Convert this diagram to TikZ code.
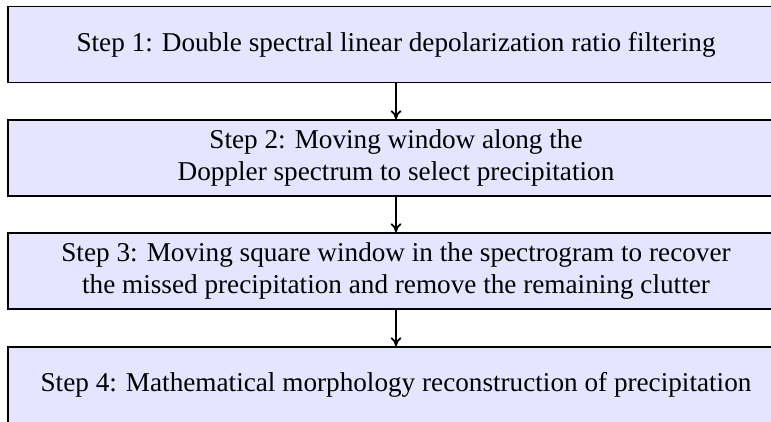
\documentclass[tikz,border=0pt]{standalone}
\usepackage{fontspec}
\setmainfont{Liberation Serif}
\usetikzlibrary{arrows.meta}
\begin{document}
\begin{tikzpicture}[x=0.5pt,y=-0.5pt,
  stepbox/.style={draw=black, line width=0.75pt, fill=blue!10,
    minimum width=388pt, minimum height=38pt, inner sep=0pt,
    align=center, font=\fontsize{13.6}{15.6}\selectfont},
  flow/.style={-{To[length=4.5pt,width=5.5pt]}, line width=0.9pt}]
  \useasboundingbox (0,0) rectangle (771,422);
  \node[stepbox] (s1) at (396,44.5) {Step 1: Double spectral linear depolarization ratio filtering};
  \node[stepbox] (s2) at (396,158) {Step 2: Moving window along the\\Doppler spectrum to select precipitation};
  \node[stepbox] (s3) at (396,271) {Step 3: Moving square window in the spectrogram to recover\\the missed precipitation and remove the remaining clutter};
  \node[stepbox] (s4) at (396,385) {Step 4: Mathematical morphology reconstruction of precipitation};
  \draw[flow] (s1) -- (s2);
  \draw[flow] (s2) -- (s3);
  \draw[flow] (s3) -- (s4);
\end{tikzpicture}
\end{document}
